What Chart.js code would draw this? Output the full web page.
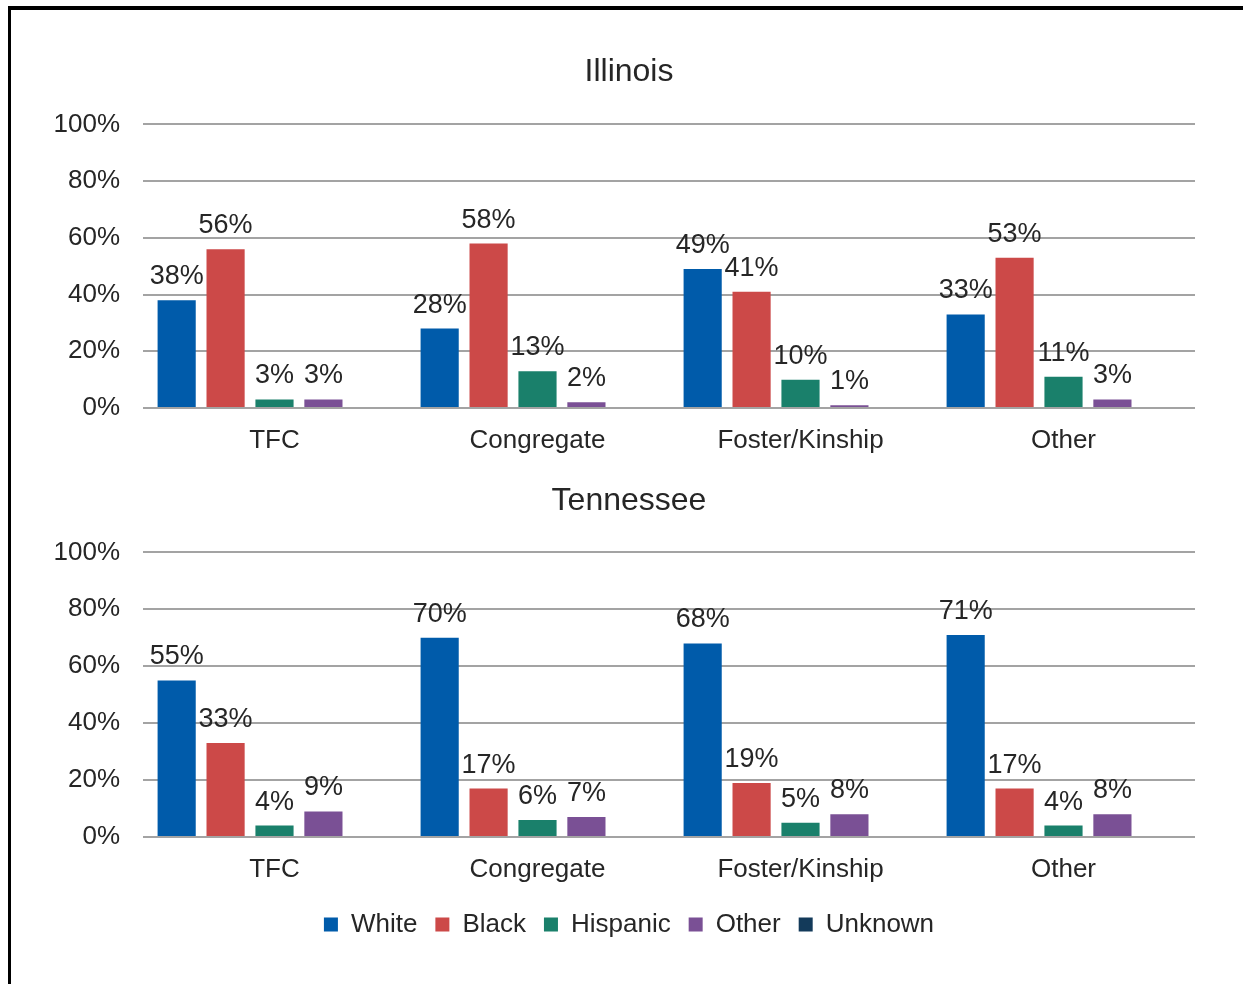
<!DOCTYPE html>
<html>
<head>
<meta charset="utf-8">
<title>Placement type by race: Illinois and Tennessee</title>
<script src="https://cdn.jsdelivr.net/npm/chart.js@4/dist/chart.umd.min.js"></script>
<style>
  html, body { margin: 0; padding: 0; background: #fff; }
  body { width: 1243px; height: 984px; position: relative; overflow: hidden; }
  #frame { position: absolute; left: 8px; top: 6px; right: 0; bottom: 0;
           border-left: 3px solid #000; border-top: 4px solid #000; }
  canvas { position: absolute; left: 0; }
  #il { top: 0; }
  #tn { top: 470px; }
</style>
</head>
<body>
<div id="frame"></div>
<canvas id="il" width="1243" height="470"></canvas>
<canvas id="tn" width="1243" height="514"></canvas>
<script>
// Placement categories and race groups
const categories = ['TFC', 'Congregate', 'Foster/Kinship', 'Other'];
const seriesNames = ['White', 'Black', 'Hispanic', 'Other', 'Unknown'];
const seriesColors = ['#005BAA', '#CC4948', '#1A806B', '#7A5095', '#133A5A'];

// Percent of youth in each placement type, Illinois
const ilWhite    = [38, 28, 49, 33];
const ilBlack    = [56, 58, 41, 53];
const ilHispanic = [3, 13, 10, 11];
const ilOther    = [3, 2, 1, 3];
const ilUnknown  = [null, null, null, null];

// Percent of youth in each placement type, Tennessee
const tnWhite    = [55, 70, 68, 71];
const tnBlack    = [33, 17, 19, 17];
const tnHispanic = [4, 6, 5, 4];
const tnOther    = [9, 7, 8, 8];
const tnUnknown  = [null, null, null, null];

// Value axis
const yMin = 0, yMax = 100, yStep = 20;

const FONT = "'Liberation Sans', Arial, Helvetica, sans-serif";
const TEXT = '#262626';
const GRID = '#a3a3a3';

// Writes each bar's percentage just above it
const valueLabels = {
  id: 'valueLabels',
  afterDatasetsDraw(chart) {
    const ctx = chart.ctx;
    ctx.save();
    ctx.font = '27px ' + FONT;
    ctx.fillStyle = TEXT;
    ctx.textAlign = 'center';
    ctx.textBaseline = 'alphabetic';
    chart.data.datasets.forEach((ds, i) => {
      const meta = chart.getDatasetMeta(i);
      meta.data.forEach((bar, j) => {
        const v = ds.data[j];
        if (v === null || v === undefined) return;
        ctx.fillText(v + '%', bar.x, bar.y - 16);
      });
    });
    ctx.restore();
  }
};

function buildChart(id, title, series, cfg) {
  const datasets = series.map((data, i) => ({
    label: seriesNames[i],
    data: data,
    backgroundColor: seriesColors[i],
    borderWidth: 0,
    categoryPercentage: 0.93,
    barPercentage: 0.78
  }));
  return new Chart(document.getElementById(id), {
    type: 'bar',
    data: { labels: categories, datasets },
    plugins: [valueLabels],
    options: {
      responsive: false,
      animation: false,
      layout: { padding: { left: 50, right: 35, top: 0, bottom: cfg.padBottom } },
      plugins: {
        title: {
          display: true,
          text: title,
          color: TEXT,
          font: { family: FONT, size: 32, weight: 'normal' },
          padding: { top: cfg.titleTop, bottom: cfg.titleBottom }
        },
        legend: {
          display: cfg.legend,
          position: 'bottom',
          labels: {
            color: TEXT,
            font: { family: FONT, size: 26 },
            boxWidth: 14,
            boxHeight: 14,
            padding: 18
          }
        },
        tooltip: { enabled: false }
      },
      scales: {
        x: {
          grid: { display: false, drawTicks: false },
          border: { display: false },
          ticks: { color: TEXT, font: { family: FONT, size: 26 }, padding: 17, maxRotation: 0 },
          afterFit: (s) => { s.height = cfg.xHeight; }
        },
        y: {
          min: yMin,
          max: yMax,
          grid: { color: GRID, lineWidth: 2, drawTicks: false },
          border: { display: false },
          ticks: {
            stepSize: yStep,
            color: TEXT,
            font: { family: FONT, size: 26 },
            padding: 23,
            callback: (v) => v + '%'
          },
          afterFit: (s) => { s.width = 93; }
        },
        // empty right-hand margin axis so the title and legend sit centred on the frame
        yRight: {
          position: 'right',
          display: true,
          grid: { display: false, drawTicks: false },
          border: { display: false },
          ticks: { display: false },
          afterFit: (s) => { s.width = 13; }
        }
      }
    }
  });
}

buildChart('il', 'Illinois',
  [ilWhite, ilBlack, ilHispanic, ilOther, ilUnknown],
  { titleTop: 53, titleBottom: 33, padBottom: 14, xHeight: 48, legend: false });

buildChart('tn', 'Tennessee',
  [tnWhite, tnBlack, tnHispanic, tnOther, tnUnknown],
  { titleTop: 12, titleBottom: 32, padBottom: 36.5, xHeight: 56.5, legend: true });
</script>
</body>
</html>
